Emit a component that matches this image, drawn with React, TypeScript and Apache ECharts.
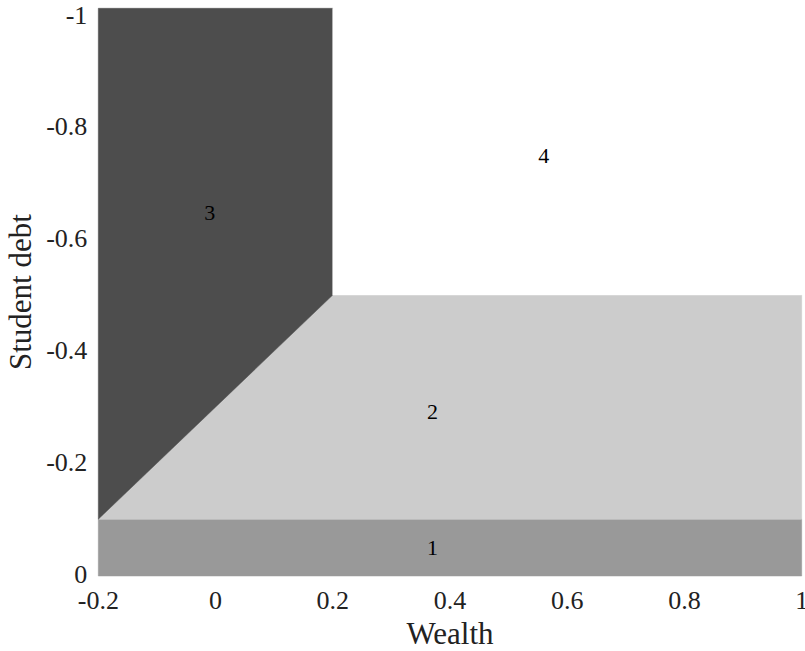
import React, { useEffect, useRef } from "react";
import * as echarts from "echarts";

// Region boundaries in (wealth, student debt) space
const region1: number[][] = [[-0.2, 0], [1, 0], [1, -0.1], [-0.2, -0.1]];
const region2: number[][] = [[-0.2, -0.1], [1, -0.1], [1, -0.495], [0.2, -0.495]];
const region3: number[][] = [[-0.2, -0.1], [0.2, -0.495], [0.2, -1], [-0.2, -1]];
const region4: number[][] = [[0.2, -0.495], [1, -0.495], [1, -1], [0.2, -1]];
const regionPolys = [region1, region2, region3, region4];
const regionColors = ["#999999", "#cccccc", "#4d4d4d", "#ffffff"];

// Region number annotations
const regionNames = ["1", "2", "3", "4"];
const regionLabelX = [0.37, 0.37, -0.01, 0.56];
const regionLabelY = [-0.05, -0.29, -0.64, -0.74];

// Axis ticks
const yTicks = [-1, -0.8, -0.6, -0.4, -0.2, 0];

const FONT = "'Liberation Serif', 'DejaVu Serif', serif";

export default function App() {
  const ref = useRef<HTMLDivElement>(null);

  useEffect(() => {
    if (!ref.current) return;
    const chart = echarts.init(ref.current, undefined, { renderer: "svg" });

    const hidden = {
      axisLine: { show: false },
      axisTick: { show: false },
      splitLine: { show: false },
    };
    const fmt = (v: number) => String(Math.round(v * 10) / 10);

    chart.setOption({
      animation: false,
      backgroundColor: "#ffffff",
      grid: {
        left: 98.3,
        right: 3.3,
        top: 8.3,
        bottom: 75,
        containLabel: false,
        outerBoundsMode: "none",
      },
      xAxis: {
        type: "value",
        min: -0.2,
        max: 1,
        interval: 0.2,
        ...hidden,
        name: "Wealth",
        nameLocation: "middle",
        nameGap: 37,
        nameTextStyle: { fontFamily: FONT, fontSize: 31, color: "#222" },
        axisLabel: {
          fontFamily: FONT,
          fontSize: 26,
          color: "#222",
          margin: 11,
          showMinLabel: true,
          showMaxLabel: true,
          hideOverlap: false,
          formatter: fmt,
        },
      },
      yAxis: [
        {
          type: "value",
          min: -1,
          max: 0,
          interval: 0.2,
          inverse: true,
          position: "left",
          ...hidden,
          axisLabel: { show: false },
          name: "Student debt",
          nameLocation: "middle",
          nameGap: 62,
          nameTextStyle: { fontFamily: FONT, fontSize: 31, color: "#222" },
        },
        {
          type: "value",
          min: -1.012,
          max: 0.0027,
          inverse: true,
          position: "left",
          ...hidden,
          axisLabel: {
            customValues: yTicks,
            fontFamily: FONT,
            fontSize: 26,
            color: "#222",
            margin: 11,
            formatter: fmt,
          },
        },
      ],
      series: [
        {
          type: "custom",
          xAxisIndex: 0,
          yAxisIndex: 0,
          data: regionPolys.map((_, i) => [i]),
          renderItem: (params: any, api: any) => {
            const i = api.value(0);
            const pts = regionPolys[i].map((p) => api.coord(p));
            return {
              type: "polygon",
              shape: { points: pts },
              style: { fill: regionColors[i], stroke: regionColors[i], lineWidth: 0.5 },
            };
          },
          silent: true,
        },
        {
          type: "custom",
          xAxisIndex: 0,
          yAxisIndex: 0,
          data: regionNames.map((_, i) => [regionLabelX[i], regionLabelY[i], i]),
          renderItem: (params: any, api: any) => {
            const pt = api.coord([api.value(0), api.value(1)]);
            return {
              type: "text",
              x: pt[0],
              y: pt[1],
              style: {
                text: regionNames[api.value(2)],
                fontFamily: FONT,
                fontSize: 22,
                fill: "#000",
                align: "center",
                verticalAlign: "middle",
              },
            };
          },
          silent: true,
        },
      ],
    });

    return () => chart.dispose();
  }, []);

  return (
    <div
      ref={ref}
      style={{ position: "fixed", left: 0, top: 0, width: 805, height: 651, background: "#fff" }}
    />
  );
}
